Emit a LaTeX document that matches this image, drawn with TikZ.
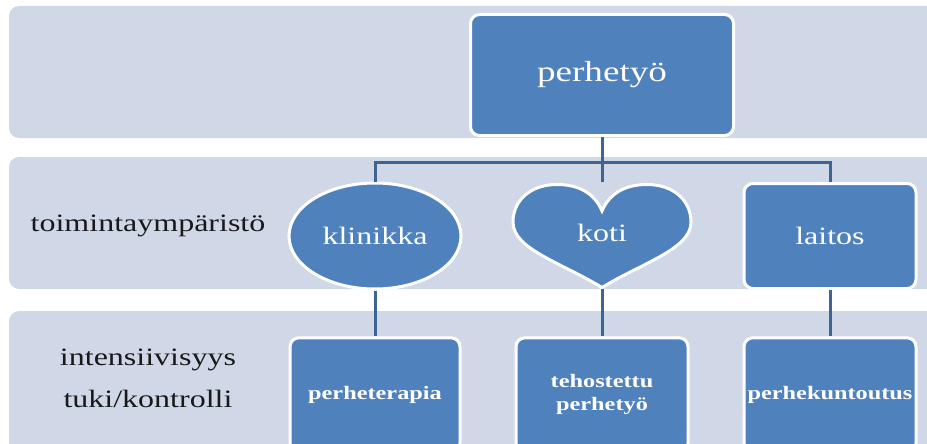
\documentclass[tikz,border=0pt]{standalone}
\usepackage{fontspec}
\setmainfont{Liberation Serif}[FakeStretch=1.28]
\usetikzlibrary{shapes.geometric}
\definecolor{bandcol}{HTML}{D0D8E8}
\definecolor{boxblue}{HTML}{4F81BD}
\definecolor{connblue}{HTML}{3C6594}
\begin{document}
\begin{tikzpicture}[x=1pt,y=-1pt,
  bandbox/.style={fill=bandcol, rounded corners=10pt},
  bluebox/.style={draw=white, line width=3pt, fill=boxblue, rounded corners=9pt,
    inner sep=0pt, text=white, align=center},
  bigtext/.style={font=\fontsize{25}{30}\selectfont},
  smalltext/.style={font=\fontsize{19}{23}\selectfont\bfseries},
  conn/.style={draw=connblue, line width=3pt},
  sidelabel/.style={anchor=base, font=\fontsize{25}{30}\selectfont, text=black!90}
]
\useasboundingbox (0,0) rectangle (927,444);
\begin{scope}
\clip (0,0) rectangle (927,444);
% bands
\path[bandbox] (9,6) rectangle (960,138);
\path[bandbox] (9,157) rectangle (960,289);
\path[bandbox] (9,311) rectangle (960,480);

% top box
\node[bluebox, minimum width=263pt, minimum height=121pt,
  font=\fontsize{29}{34}\selectfont] (top) at (602,75) {perhetyö};

% middle row
\node[bluebox, ellipse, minimum width=172pt, minimum height=106pt, bigtext] (klin) at (375,236) {klinikka};
\draw[draw=white, line width=3pt, fill=boxblue]
  (602,211) .. controls (610,192) and (627,184.5) .. (647,184.5)
  .. controls (674,184.5) and (691,201) .. (691,222)
  .. controls (691,249) and (644,262) .. (602,287.5)
  .. controls (560,262) and (513,249) .. (513,222)
  .. controls (513,201) and (530,184.5) .. (557,184.5)
  .. controls (577,184.5) and (594,192) .. (602,211) -- cycle;
\coordinate (kotitop) at (602,182);
\coordinate (kotibot) at (602,289);
\node[text=white, bigtext, inner sep=0pt] (koti) at (602,232.5) {koti};
\node[bluebox, minimum width=172pt, minimum height=105pt, bigtext] (lait) at (830,236) {laitos};

% bottom row
\node[bluebox, minimum width=170pt, minimum height=114pt, smalltext] (pt) at (375,394.8) {perheterapia};
\node[bluebox, minimum width=172pt, minimum height=114pt, smalltext] (tp) at (602,394.8) {tehostettu\\perhetyö};
\node[bluebox, minimum width=172pt, minimum height=114pt, smalltext] (pk) at (830,394.8) {perhekuntoutus};

% connectors
\coordinate (j) at (602,162);
\draw[conn] (top.south) -- (j);
\draw[conn] (klin.north) |- (j) -| (lait.north);
\draw[conn] (j) -- (kotitop);
\draw[conn] (klin.south) -- (pt.north);
\draw[conn] (kotibot) -- (tp.north);
\draw[conn] (lait.south) -- (pk.north);

% side labels
\node[sidelabel] (toim) at (148,231) {toimintaympäristö};
\node[sidelabel] (int) at (148,365) {intensiivisyys};
\node[sidelabel] (tuki) at (148,407) {tuki/kontrolli};
\end{scope}
\end{tikzpicture}
\end{document}
